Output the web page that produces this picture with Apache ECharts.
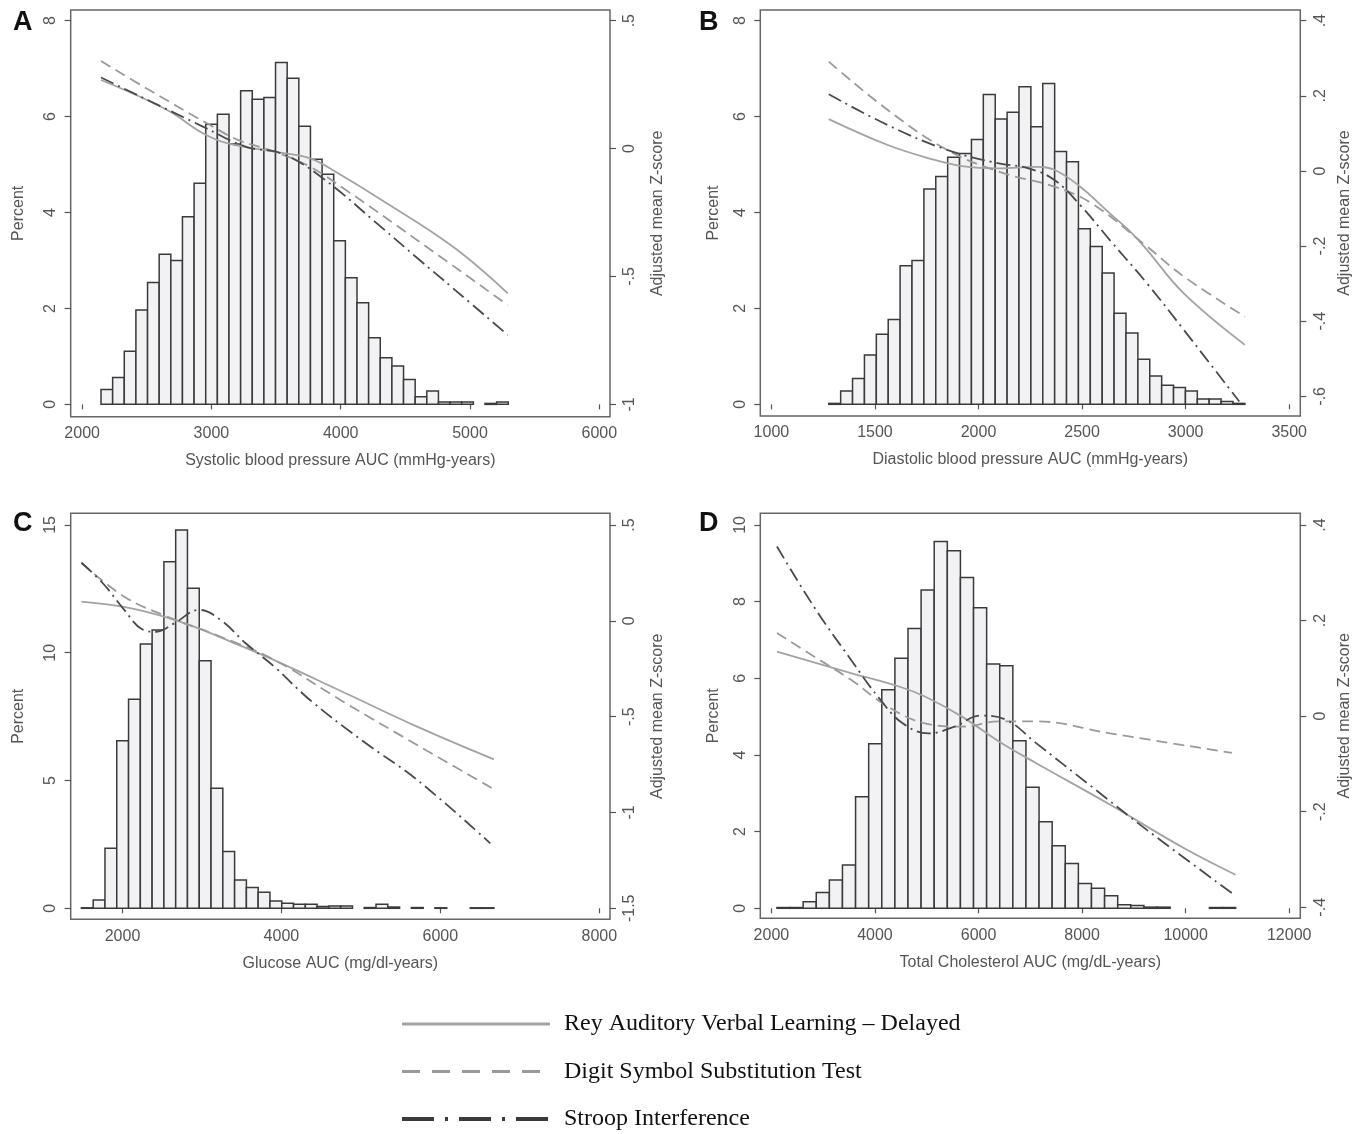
<!DOCTYPE html>
<html><head><meta charset="utf-8">
<script src="https://cdn.jsdelivr.net/npm/echarts@6/dist/echarts.min.js"></script>
<style>html,body{margin:0;padding:0;background:#fff}#c{width:1367px;height:1134px}</style>
</head><body><div id="c"></div>
<script>
// ---------- DATA ----------
const seriesNames = ['Rey Auditory Verbal Learning \u2013 Delayed', 'Digit Symbol Substitution Test', 'Stroop Interference'];
const xTitles = ['Systolic blood pressure AUC (mmHg-years)', 'Diastolic blood pressure AUC (mmHg-years)', 'Glucose AUC (mg/dl-years)', 'Total Cholesterol AUC (mg/dL-years)'];
const panelLetters = ['A', 'B', 'C', 'D'];

// histogram bins (percent), first bin start and bin width in AUC units
const binStartA = 2146, binWidthA = 90;
const histA = [0.31,0.56,1.11,1.97,2.54,3.13,3.0,3.91,4.61,5.84,6.05,5.43,6.54,6.36,6.40,7.13,6.80,5.80,5.11,4.80,3.41,2.64,2.12,1.39,0.97,0.80,0.52,0.16,0.28,0.05,0.05,0.05,0,0.02,0.05];
const binStartB = 1277, binWidthB = 57.4;
const histB = [0.02,0.28,0.54,1.03,1.46,1.77,2.89,3.0,4.49,4.75,5.15,5.23,5.52,6.46,5.95,6.09,6.62,5.79,6.69,5.27,5.06,3.66,3.29,2.74,1.90,1.49,0.94,0.59,0.40,0.35,0.28,0.11,0.11,0.06,0.02];
const binStartC = 1483, binWidthC = 148.3;
const histC = [0.02,0.33,2.35,6.56,8.18,10.34,10.89,13.56,14.80,12.52,9.69,4.70,2.22,1.11,0.81,0.63,0.29,0.20,0.16,0.16,0.07,0.09,0.09,0,0.03,0.16,0.05,0,0.03,0,0.02,0,0,0.02,0.02];
const binStartD = 2107, binWidthD = 253.1;
const histD = [0.02,0.02,0.17,0.41,0.74,1.13,2.91,4.29,5.70,6.52,7.30,8.30,9.57,9.33,8.63,7.84,6.37,6.33,4.37,3.16,2.26,1.63,1.17,0.65,0.52,0.33,0.09,0.07,0.03,0.03,0,0,0,0.02,0.02];

// adjusted mean Z-score curves: [AUC, z]
const reyA = [[2146,0.268],[2657,0.151],[2934,0.060],[3127,0.020],[3487,-0.012],[3763,-0.038],[3957,-0.090],[4316,-0.201],[4869,-0.384],[5292,-0.566]];
const dssA = [[2146,0.342],[2519,0.229],[2989,0.092],[3210,0.033],[3487,-0.012],[3763,-0.071],[4040,-0.162],[4592,-0.358],[5292,-0.612]];
const stroopA = [[2146,0.278],[2934,0.086],[3266,0.007],[3542,-0.019],[3846,-0.110],[4316,-0.308],[4592,-0.428],[4869,-0.546],[5292,-0.729]];

const reyB = [[1277,0.138],[1562,0.069],[1777,0.031],[1920,0.013],[2098,0.007],[2277,0.011],[2366,0.003],[2491,-0.042],[2634,-0.113],[2741,-0.166],[2813,-0.210],[2991,-0.326],[3286,-0.463]];
const dssB = [[1277,0.291],[1562,0.162],[1848,0.056],[2098,-0.002],[2366,-0.042],[2545,-0.086],[2813,-0.201],[2991,-0.281],[3286,-0.388]];
const stroopB = [[1277,0.204],[1562,0.122],[1848,0.056],[2098,0.020],[2241,0.007],[2366,-0.024],[2491,-0.091],[2634,-0.184],[2813,-0.299],[2991,-0.423],[3259,-0.614]];

const reyC = [[1483,0.100],[2112,0.065],[2786,-0.013],[3461,-0.126],[4000,-0.222],[4809,-0.378],[5708,-0.552],[6674,-0.723]];
const dssC = [[1483,0.303],[2022,0.126],[2562,0.022],[3236,-0.083],[3910,-0.204],[4809,-0.430],[5708,-0.648],[6674,-0.879]];
const stroopC = [[1483,0.303],[1753,0.196],[2022,0.057],[2247,-0.044],[2427,-0.057],[2652,-0.013],[2966,0.057],[3236,0.004],[3550,-0.117],[3910,-0.239],[4359,-0.413],[5033,-0.630],[5708,-0.830],[6629,-1.161]];

const reyD = [[2107,0.135],[3536,0.090],[4464,0.062],[4964,0.041],[5679,-0.001],[6393,-0.053],[7107,-0.098],[8536,-0.185],[9964,-0.276],[10964,-0.332]];
const dssD = [[2107,0.174],[2821,0.125],[3536,0.076],[4250,0.020],[4964,-0.015],[5679,-0.022],[6393,-0.011],[7107,-0.011],[8536,-0.036],[10893,-0.077]];
const stroopD = [[2107,0.355],[2821,0.229],[3536,0.118],[4107,0.034],[4536,-0.015],[5036,-0.036],[5536,-0.022],[6036,0.001],[6536,-0.008],[7107,-0.056],[8179,-0.147],[9250,-0.238],[10964,-0.376]];

// tick labels
const xTicksA = [2000,3000,4000,5000,6000];
const xTicksB = [1000,1500,2000,2500,3000,3500];
const xTicksC = [2000,4000,6000,8000];
const xTicksD = [2000,4000,6000,8000,10000,12000];
const pctTicksA = [0,2,4,6,8];
const pctTicksB = [0,2,4,6,8];
const pctTicksC = [0,5,10,15];
const pctTicksD = [0,2,4,6,8,10];
const zTicksA = [-1,-0.5,0,0.5];
const zTicksB = [-0.6,-0.4,-0.2,0,0.2,0.4];
const zTicksC = [-1.5,-1,-0.5,0,0.5];
const zTicksD = [-0.4,-0.2,0,0.2,0.4];

// ---------- LAYOUT / STYLE ----------
const SANS = '"Liberation Sans", Arial, Helvetica, sans-serif';
const SERIF = '"Liberation Serif", "Times New Roman", serif';
const TXT = '#555';
const grids = [
  {left:70.7, top:10, width:539.3, height:406.7},
  {left:760.3, top:10, width:540, height:406},
  {left:70.7, top:513.3, width:539.3, height:406},
  {left:760.3, top:513.3, width:540, height:405}
];
const ranges = [
  {x:[1911.6,6082.9], p:[-0.257,8.222], z:[-1.0482,0.5417]},
  {x:[946.4,3553.6], p:[-0.243,8.222], z:[-0.6524,0.4284]},
  {x:[1348.3,8134.8], p:[-0.430,15.456], z:[-1.5574,0.5609]},
  {x:[1785.7,12214], p:[-0.261,10.304], z:[-0.423,0.4244]}
];
const nameGaps = [{l:44,r:40},{l:39,r:36},{l:44,r:40},{l:39,r:36}];
const letterPos = [[13,23],[699,23],[13,524],[699,524]];

const panels = [
  {hist:histA, start:binStartA, w:binWidthA, lines:[reyA,dssA,stroopA], xT:xTicksA, pT:pctTicksA, zT:zTicksA},
  {hist:histB, start:binStartB, w:binWidthB, lines:[reyB,dssB,stroopB], xT:xTicksB, pT:pctTicksB, zT:zTicksB},
  {hist:histC, start:binStartC, w:binWidthC, lines:[reyC,dssC,stroopC], xT:xTicksC, pT:pctTicksC, zT:zTicksC},
  {hist:histD, start:binStartD, w:binWidthD, lines:[reyD,dssD,stroopD], xT:xTicksD, pT:pctTicksD, zT:zTicksD}
];

const lineStyles = [
  {color:'#a3a3a3', width:1.8, type:'solid'},
  {color:'#9a9a9a', width:1.8, type:[11,6]},
  {color:'#4a4a4a', width:1.8, type:[14,5,2,5]}
];
const legendLineStyles = [
  {color:'#a3a3a3', width:3, type:'solid'},
  {color:'#9a9a9a', width:3, type:[18,12]},
  {color:'#3a3a3a', width:4, type:[32,11,3,11]}
];

function stataFmt(v){
  let s = String(+(+v).toFixed(3));
  return s.replace(/^(-?)0\./, '$1.');
}

const labelStyle = {color:TXT, fontSize:16, fontFamily:SANS};
const tickStyle = {color:'#555', width:1.2};

const xAxes = [], yAxes = [], series = [];
panels.forEach((p, i) => {
  xAxes.push({
    type:'value', gridIndex:i, min:ranges[i].x[0], max:ranges[i].x[1],
    axisLine:{show:false}, splitLine:{show:false},
    axisTick:{show:true, customValues:p.xT, length:5, lineStyle:tickStyle},
    axisLabel:Object.assign({customValues:p.xT, margin:9, formatter:v => String(v)}, labelStyle),
    name:xTitles[i], nameLocation:'middle', nameGap:36,
    nameTextStyle:{color:TXT, fontSize:16, fontFamily:SANS}
  });
  yAxes.push({
    type:'value', gridIndex:i, position:'left', min:ranges[i].p[0], max:ranges[i].p[1],
    axisLine:{show:false}, splitLine:{show:false},
    axisTick:{show:true, customValues:p.pT, length:6, lineStyle:tickStyle},
    axisLabel:Object.assign({customValues:p.pT, rotate:90, margin:12, formatter:stataFmt}, labelStyle),
    name:'Percent', nameLocation:'middle', nameRotate:90, nameGap:nameGaps[i].l,
    nameTextStyle:{color:TXT, fontSize:16, fontFamily:SANS}
  });
  yAxes.push({
    type:'value', gridIndex:i, position:'right', min:ranges[i].z[0], max:ranges[i].z[1],
    axisLine:{show:false}, splitLine:{show:false},
    axisTick:{show:true, customValues:p.zT, length:6, lineStyle:tickStyle},
    axisLabel:Object.assign({customValues:p.zT, rotate:90, margin:12, formatter:stataFmt}, labelStyle),
    name:'Adjusted mean Z-score', nameLocation:'middle', nameRotate:90, nameGap:nameGaps[i].r,
    nameTextStyle:{color:TXT, fontSize:16, fontFamily:SANS}
  });
  const histData = p.hist.map((h, k) => [p.start + k * p.w, p.start + (k + 1) * p.w, h]).filter(d => d[2] > 0);
  series.push({
    type:'custom', name:'hist' + i, xAxisIndex:i, yAxisIndex:2*i, silent:true, z:2,
    encode:{x:[0,1], y:2},
    data:histData,
    renderItem:function(params, api){
      const a = api.coord([api.value(0), api.value(2)]);
      const b = api.coord([api.value(1), 0]);
      return {type:'rect', shape:{x:a[0], y:a[1], width:b[0]-a[0], height:b[1]-a[1]},
        style:{fill:'#f2f2f4', stroke:'#3a3a3a', lineWidth:1.5}};
    }
  });
  p.lines.forEach((ln, j) => {
    series.push({
      type:'line', name:seriesNames[j], xAxisIndex:i, yAxisIndex:2*i+1,
      data:ln, symbol:'none', showSymbol:false, smooth:0.4,
      lineStyle:lineStyles[j], itemStyle:{color:lineStyles[j].color}, z:3, silent:true
    });
  });
});

const graphics = panelLetters.map((t, i) => ({
  type:'text', x:letterPos[i][0], y:letterPos[i][1],
  style:{text:t, font:'bold 27px ' + SANS, fill:'#111', verticalAlign:'middle'}
}));

const option = {
  animation:false,
  backgroundColor:'#fff',
  grid:grids.map(g => Object.assign({show:true, borderColor:'#666', borderWidth:1.5, backgroundColor:'transparent'}, g)),
  xAxis:xAxes, yAxis:yAxes, series:series, graphic:graphics,
  legend:{
    orient:'vertical', left:400, top:1012, padding:0, itemWidth:148, itemHeight:22, itemGap:23.5,
    selectedMode:false,
    formatter:name => '{p|}' + name,
    textStyle:{fontFamily:SERIF, fontSize:24, color:'#111', rich:{p:{width:9}}},
    data:seriesNames.map((n, j) => ({name:n, lineStyle:legendLineStyles[j], itemStyle:{opacity:0}}))
  }
};
const chart = echarts.init(document.getElementById('c'), null, {renderer:'canvas'});
chart.setOption(option);
</script></body></html>
